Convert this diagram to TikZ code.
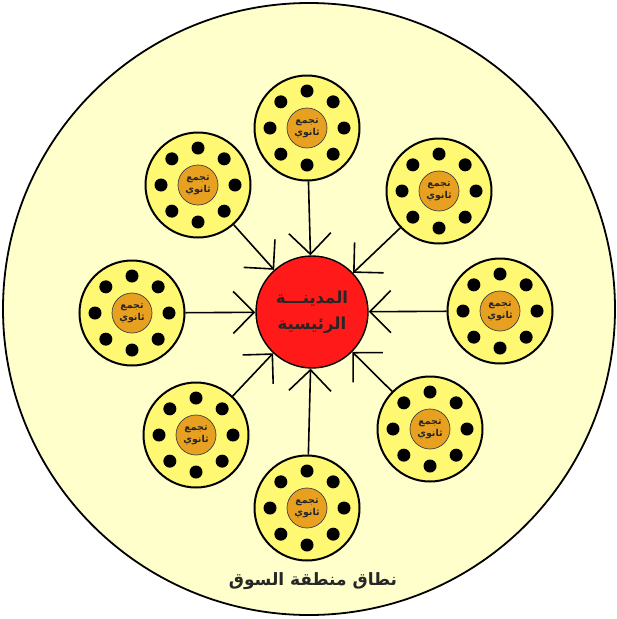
\documentclass[tikz,border=0pt]{standalone}
\usepackage{fontspec}
\newfontfamily\arabicfont[Script=Arabic]{DejaVu Sans}
\TeXXeTstate=1
\usetikzlibrary{arrows.meta}
\definecolor{bgyellow}{RGB}{255,255,204}
\definecolor{satyellow}{RGB}{255,248,115}
\definecolor{corange}{RGB}{232,160,32}
\definecolor{cred}{RGB}{255,25,25}
\tikzset{
  sat/.style={circle, draw=black, line width=2pt, fill=satyellow, minimum size=105pt, inner sep=0pt},
  core/.style={circle, draw=black!75, line width=0.7pt, fill=corange, minimum size=40pt, inner sep=0pt,
    font=\arabicfont\bfseries\fontsize{9.5}{12}\selectfont, align=center, text=black!85},
  dot/.style={circle, fill=black, minimum size=13pt, inner sep=0pt},
  link/.style={line width=1.6pt, -{Straight Barb[length=21pt,width=42pt,line width=1.6pt]}},
  city/.style={circle, draw=black, line width=1.4pt, fill=cred, minimum size=112pt, inner sep=0pt,
    font=\arabicfont\bfseries\fontsize{16.5}{26}\selectfont, align=center, text=black!85},
  zone/.style={circle, draw=black, line width=1.8pt, fill=bgyellow, minimum size=612pt, inner sep=0pt},
}
\begin{document}
\begin{tikzpicture}[x=1pt, y=-1pt]
  \useasboundingbox[fill=white] (0,0) rectangle (617,619);
  \node[zone] (market) at (309,309) {};
  \node[city] (city) at (312,312) {\beginR المدينـــة\endR\\\beginR الرئيسية\endR};
  \foreach \n/\x/\y in {s1/307/128, s2/439/191, s3/500/311, s4/430/429, s5/307/508, s6/196/435, s7/132/313, s8/198/185} {
    \node[sat] (\n) at (\x,\y) {};
    \begin{scope}[shift={(\x,\y)}]
      \foreach \a [count=\i] in {90,45,0,-45,-90,-135,180,135}
        \node[dot] (\n d\i) at (\a:37) {};
    \end{scope}
    \node[core] (\n c) at (\x,\y) {\beginR تجمع\endR\\\beginR ثانوي\endR};
    \draw[link] (\n) -- (city);
  }
  \node[font=\arabicfont\bfseries\fontsize{17}{20}\selectfont, text=black!85] (label) at (313,581) {\beginR نطاق منطقة السوق\endR};
\end{tikzpicture}
\end{document}
